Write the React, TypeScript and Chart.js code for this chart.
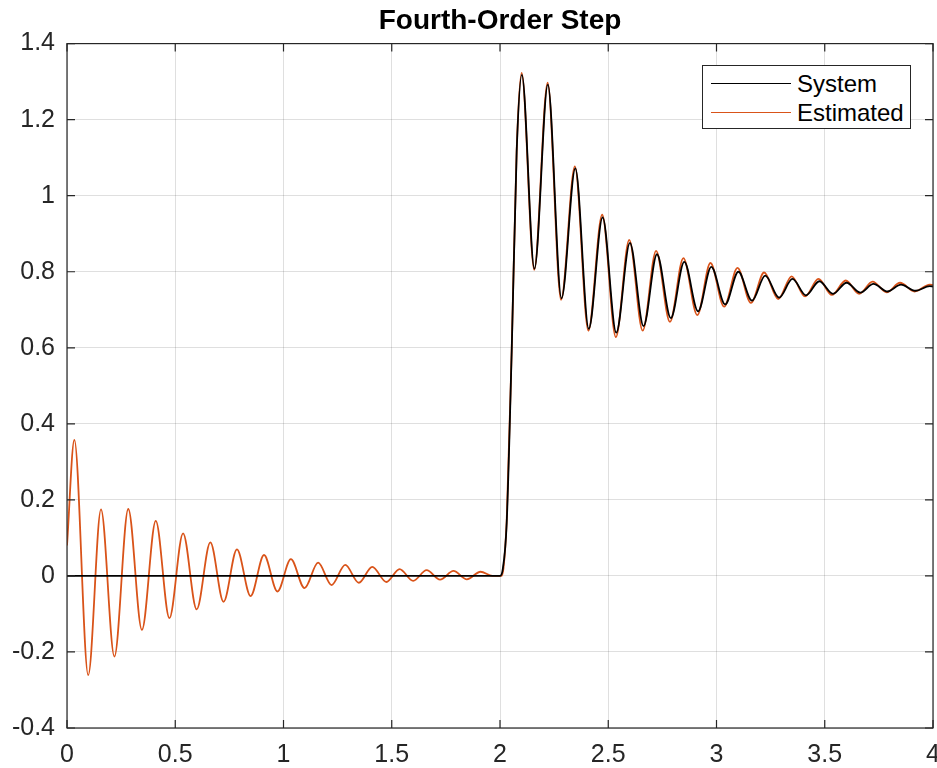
import React, { useEffect, useRef } from "react";
import { Chart, registerables } from "chart.js";

Chart.register(...registerables);

const chartTitle = "Fourth-Order Step";
const seriesNames = ["System", "Estimated"];
const seriesColors = ["#000000", "#D95319"];

// Estimated response: extremes and key points
const estX = [
  0.0, 0.034, 0.098, 0.157, 0.219, 0.283, 0.346, 0.41, 0.473, 0.536, 0.599, 0.662, 0.723, 0.785, 0.848, 0.91,
  0.972, 1.034, 1.097, 1.16, 1.222, 1.285, 1.348, 1.41, 1.475, 1.536, 1.599, 1.661, 1.723, 1.785, 1.847, 1.91,
  1.965, 2.005, 2.016, 2.031, 2.054, 2.077, 2.1, 2.158, 2.22, 2.282, 2.346, 2.408, 2.472, 2.535, 2.597, 2.659,
  2.721, 2.785, 2.847, 2.911, 2.972, 3.035, 3.097, 3.159, 3.22, 3.285, 3.347, 3.409, 3.471, 3.533, 3.597, 3.659,
  3.721, 3.786, 3.848, 3.915, 3.985, 4.0,
];
const estY = [
  0.08, 0.358, -0.261, 0.175, -0.212, 0.176, -0.142, 0.145, -0.111, 0.112, -0.088, 0.088, -0.068, 0.07, -0.053, 0.055,
  -0.041, 0.044, -0.032, 0.035, -0.024, 0.029, -0.018, 0.024, -0.016, 0.018, -0.013, 0.015, -0.01, 0.013, -0.009, 0.011,
  0.0, 0.0, 0.02, 0.147, 0.595, 1.12, 1.323, 0.805, 1.297, 0.726, 1.077, 0.645, 0.95, 0.628, 0.884, 0.645,
  0.855, 0.668, 0.836, 0.686, 0.823, 0.708, 0.81, 0.718, 0.798, 0.728, 0.788, 0.735, 0.781, 0.739, 0.777, 0.742,
  0.774, 0.746, 0.771, 0.748, 0.766, 0.765,
];

// System response
const sysX = [
  0.0, 2.0, 2.012, 2.031, 2.054, 2.077, 2.101, 2.159, 2.221, 2.284, 2.348, 2.41, 2.474, 2.537, 2.6, 2.663,
  2.725, 2.789, 2.851, 2.915, 2.976, 3.04, 3.101, 3.164, 3.225, 3.289, 3.351, 3.413, 3.475, 3.538, 3.601, 3.664,
  3.725, 3.79, 3.852, 3.919, 3.985, 4.0,
];
const sysY = [
  0.0, 0.0, 0.015, 0.14, 0.59, 1.115, 1.318, 0.808, 1.292, 0.73, 1.072, 0.65, 0.943, 0.64, 0.876, 0.657,
  0.846, 0.678, 0.826, 0.696, 0.813, 0.714, 0.8, 0.724, 0.79, 0.732, 0.781, 0.738, 0.775, 0.742, 0.771, 0.745,
  0.768, 0.748, 0.766, 0.75, 0.762, 0.761,
];

const xTickValues = [0, 0.5, 1, 1.5, 2, 2.5, 3, 3.5, 4];
const yTickValues = [-0.4, -0.2, 0, 0.2, 0.4, 0.6, 0.8, 1, 1.2, 1.4];

const FONT = '"Liberation Sans", Arial, Helvetica, sans-serif';
const AXIS_COLOR = "#262626";

const framePlugin = {
  id: "frameBox",
  afterDraw(chart: any) {
    const { ctx, chartArea: a, scales } = chart;
    ctx.save();
    ctx.strokeStyle = AXIS_COLOR;
    ctx.lineWidth = 1.2;
    const tl = 8;
    ctx.beginPath();
    for (const v of xTickValues) {
      const px = scales.x.getPixelForValue(v);
      ctx.moveTo(px, a.bottom);
      ctx.lineTo(px, a.bottom - tl);
      ctx.moveTo(px, a.top);
      ctx.lineTo(px, a.top + tl);
    }
    for (const v of yTickValues) {
      const py = scales.y.getPixelForValue(v);
      ctx.moveTo(a.left, py);
      ctx.lineTo(a.left + tl, py);
      ctx.moveTo(a.right, py);
      ctx.lineTo(a.right - tl, py);
    }
    ctx.stroke();
    ctx.strokeRect(a.left, a.top, a.right - a.left, a.bottom - a.top);
    ctx.restore();
  },
};

export default function App() {
  const canvasRef = useRef<HTMLCanvasElement | null>(null);

  useEffect(() => {
    if (!canvasRef.current) return;
    const chart = new Chart(canvasRef.current, {
      type: "line",
      data: {
        datasets: [
          {
            label: seriesNames[0],
            data: sysX.map((x, i) => ({ x, y: sysY[i] })),
            borderColor: seriesColors[0],
            borderWidth: 1.8,
            pointRadius: 0,
            cubicInterpolationMode: "monotone",
            fill: false,
          },
          {
            label: seriesNames[1],
            data: estX.map((x, i) => ({ x, y: estY[i] })),
            borderColor: seriesColors[1],
            borderWidth: 1.8,
            pointRadius: 0,
            cubicInterpolationMode: "monotone",
            fill: false,
          },
        ],
      },
      options: {
        responsive: false,
        animation: false,
        layout: { padding: { left: 0, right: 4, top: 0, bottom: 0 } },
        plugins: {
          legend: { display: false },
          tooltip: { enabled: false },
          title: {
            display: true,
            text: chartTitle,
            fullSize: false,
            color: "#000000",
            font: { family: FONT, size: 28, weight: "bold" },
            padding: { top: 4, bottom: 6 },
          },
        },
        scales: {
          x: {
            type: "linear",
            min: 0,
            max: 4,
            afterBuildTicks: (s: any) => {
              s.ticks = xTickValues.map((v) => ({ value: v }));
            },
            afterFit: (s: any) => {
              s.height = 40;
              s.paddingLeft = 0;
              s.paddingRight = 0;
            },
            grid: { color: "rgba(38,38,38,0.15)", lineWidth: 1, drawTicks: false },
            border: { display: false },
            ticks: {
              autoSkip: false,
              maxRotation: 0,
              padding: 12,
              color: AXIS_COLOR,
              font: { family: FONT, size: 25 },
              callback: (v: any) => String(v),
            },
          },
          y: {
            type: "linear",
            min: -0.4,
            max: 1.4,
            afterBuildTicks: (s: any) => {
              s.ticks = yTickValues.map((v) => ({ value: v }));
            },
            afterFit: (s: any) => {
              s.width = 67;
              s.paddingTop = 0;
              s.paddingBottom = 0;
            },
            grid: { color: "rgba(38,38,38,0.15)", lineWidth: 1, drawTicks: false },
            border: { display: false },
            ticks: {
              autoSkip: false,
              padding: 12,
              color: AXIS_COLOR,
              font: { family: FONT, size: 25 },
              callback: (v: any) => String(v),
            },
          },
        },
      },
      plugins: [framePlugin],
    } as any);
    return () => chart.destroy();
  }, []);

  return (
    <div style={{ position: "absolute", left: 0, top: 0, width: 937, height: 768, background: "#fff" }}>
      <canvas ref={canvasRef} width={937} height={768} style={{ display: "block" }} />
      <div
        style={{
          position: "absolute",
          left: 702,
          top: 65,
          width: 207,
          height: 62,
          border: `1.3px solid ${AXIS_COLOR}`,
          background: "#fff",
          fontFamily: FONT,
          fontSize: 24,
          color: "#000",
        }}
      >
        {seriesNames.map((name, i) => (
          <div
            key={name}
            style={{
              position: "absolute",
              left: 0,
              top: 3 + i * 29.4,
              height: 29,
              display: "flex",
              alignItems: "center",
              whiteSpace: "nowrap",
            }}
          >
            <span
              style={{
                display: "inline-block",
                marginLeft: 8,
                width: 80,
                height: 0,
                borderTop: `1.6px solid ${seriesColors[i]}`,
              }}
            />
            <span style={{ marginLeft: 6, lineHeight: "29px" }}>{name}</span>
          </div>
        ))}
      </div>
    </div>
  );
}
